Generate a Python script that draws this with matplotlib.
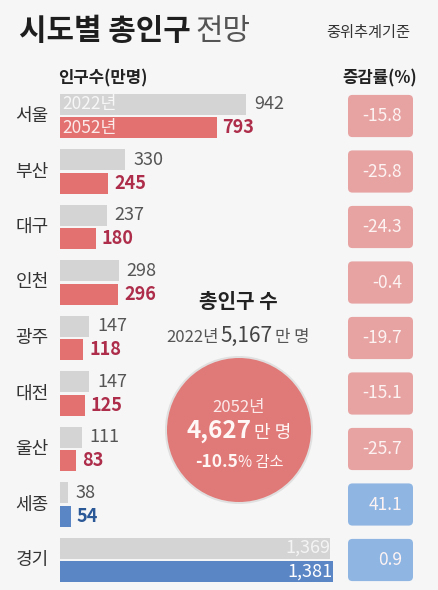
import matplotlib
matplotlib.use("Agg")
import matplotlib.pyplot as plt
from matplotlib.patches import FancyBboxPatch, Circle

plt.rcParams['font.family'] = ['Noto Sans CJK KR', 'DejaVu Sans']

# ---- data ----
regions = ['서울', '부산', '대구', '인천', '광주', '대전', '울산', '세종', '경기']
pop2022 = [942, 330, 237, 298, 147, 147, 111, 38, 1369]
pop2052 = [793, 245, 180, 296, 118, 125, 83, 54, 1381]
change = [-15.8, -25.8, -24.3, -0.4, -19.7, -15.1, -25.7, 41.1, 0.9]
total2022 = '5,167'
total2052 = '4,627'
total_change = '-10.5'

# ---- styles ----
BG = '#f6f6f6'
GRAY_BAR = '#d4d4d4'
RED_BAR = '#e3716f'
BLUE_BAR = '#5b86c6'
RED_TXT = '#ad2d4a'
BLUE_TXT = '#2b5897'
RED_BOX = '#e7a3a2'
BLUE_BOX = '#8fb5e3'

W, H = 439, 590
fig = plt.figure(figsize=(W / 100, H / 100), dpi=100, facecolor=BG)

# row geometry (pixels)
row0 = 116.0
rowh = 55.5
x0 = 60.0
pxu = 0.1975  # pixels per unit of population
y_top, y_bot = -0.55, 8.5

def px_rect(left_px, width_px):
    top_px = row0 + y_top * rowh
    bot_px = row0 + y_bot * rowh
    return [left_px / W, 1 - bot_px / H, width_px / W, (bot_px - top_px) / H]

ax = fig.add_axes(px_rect(x0, 290))
ax.set_xlim(0, 290 / pxu)
ax.set_ylim(y_bot, y_top)
ax.axis('off')

off = 0.215
bh = 0.38
for i, (r, a, b, c) in enumerate(zip(regions, pop2022, pop2052, change)):
    inc = c > 0
    col = BLUE_BAR if inc else RED_BAR
    tcol = BLUE_TXT if inc else RED_TXT
    ax.barh(i - off, a, height=bh, color=GRAY_BAR, linewidth=0)
    ax.barh(i + off, b, height=bh, color=col, linewidth=0)
    if a > 1200:
        ax.text(a - 2, i - off, f'{a:,}', ha='right', va='center', fontsize=13,
                color='#f4f4f4')
        ax.text(b - 2, i + off, f'{b:,}', ha='right', va='center', fontsize=13,
                color='white')
    else:
        ax.text(a + 40, i - off, f'{a:,}', ha='left', va='center', fontsize=13,
                color='#555555')
        ax.text(b + 30, i + off, f'{b:,}', ha='left', va='center', fontsize=13,
                color=tcol, fontweight='bold')

# inner year labels on first row
ax.text(12, 0 - off, '2022년', ha='left', va='center', fontsize=12.5, color='#f7f7f7')
ax.text(12, 0 + off, '2052년', ha='left', va='center', fontsize=12.5, color='#fbeaea')

# percent column
pax = fig.add_axes(px_rect(340, 90))
pax.set_xlim(0, 90)
pax.set_ylim(y_bot, y_top)
pax.axis('off')
box_h = 0.76
for i, c in enumerate(change):
    fc = BLUE_BOX if c > 0 else RED_BOX
    p = FancyBboxPatch((8, i - box_h / 2), 65, box_h,
                       boxstyle='round,pad=0,rounding_size=4.5',
                       mutation_aspect=1 / rowh, fc=fc, ec='none')
    pax.add_patch(p)
    pax.text(62, i, f'{c:.1f}', ha='right', va='center', fontsize=12.5,
             color='#fdf3f3')

# overlay in pixel units
ov = fig.add_axes([0, 0, 1, 1])
ov.set_xlim(0, W)
ov.set_ylim(H, 0)
ov.axis('off')
ov.patch.set_visible(False)

# region labels
for i, r in enumerate(regions):
    ov.text(32, row0 + i * rowh, r, ha='center', va='center', fontsize=13,
            color='#333333')

# title
t1 = ov.text(19, 31, '시도별 총인구', ha='left', va='center', fontsize=21.5,
             fontweight='bold', color='#1e1e1e')
fig.canvas.draw()
rend = fig.canvas.get_renderer()
bb = t1.get_window_extent(rend)
ov.text(bb.x1 + 5, 31, '전망', ha='left', va='center', fontsize=21.5,
        color='#555555')
ov.text(410, 33, '중위추계기준', ha='right', va='center', fontsize=11,
        color='#333333')
ov.text(58, 78, '인구수(만명)', ha='left', va='center', fontsize=12,
        fontweight='bold', color='#222222')
ov.text(417, 78, '증감률(%)', ha='right', va='center', fontsize=12,
        fontweight='bold', color='#222222')

# circle
ov.add_patch(Circle((239, 430), 74, fc='#e0e0e0', ec='none'))
ov.add_patch(Circle((239, 430), 72, fc='#e07a78', ec='none'))


def seg_line(x, y, segs, gap=2):
    texts = []
    for s, fs, fw, col in segs:
        texts.append(ov.text(0, y, s, fontsize=fs, fontweight=fw, color=col,
                             ha='left', va='baseline'))
    fig.canvas.draw()
    r = fig.canvas.get_renderer()
    ws = [t.get_window_extent(r).width for t in texts]
    total = sum(ws) + gap * (len(ws) - 1)
    cx = x - total / 2
    for t, w in zip(texts, ws):
        t.set_x(cx)
        cx += w + gap


ov.text(238, 302, '총인구 수', ha='center', va='center', fontsize=14.5,
        fontweight='bold', color='#222222')
seg_line(238, 342, [('2022년', 12, 'normal', '#555555'),
                    (total2022, 15, 'normal', '#444444'),
                    ('만 명', 12, 'normal', '#555555')])
seg_line(239, 412, [('2052년', 12, 'normal', '#fbe9e9')])
seg_line(239, 438, [(total2052, 17.5, 'bold', '#fff6f6'),
                    ('만 명', 13, 'normal', '#fff6f6')])
seg_line(239, 467, [(total_change, 12.5, 'bold', '#fff6f6'),
                    ('% 감소', 11, 'normal', '#fff6f6')], gap=0)

fig.savefig('out.png', dpi=100, facecolor=BG)
